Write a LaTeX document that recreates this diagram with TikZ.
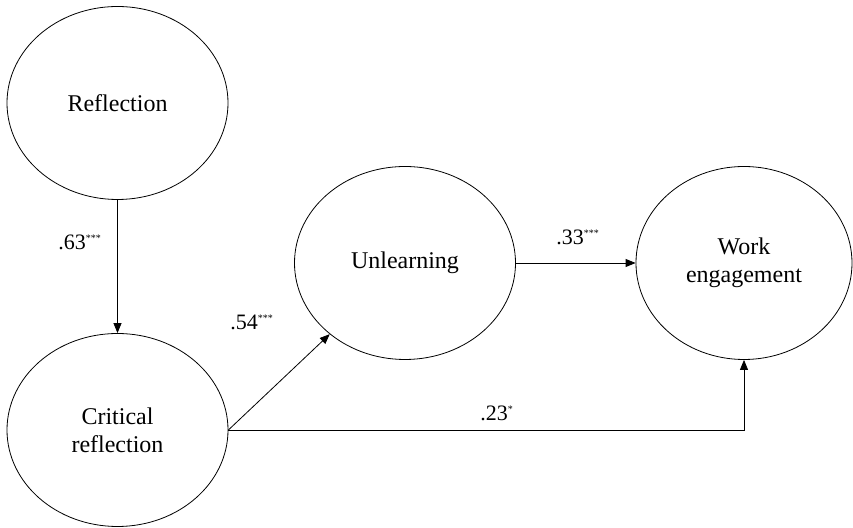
\documentclass[tikz,border=0pt]{standalone}
\usepackage{fontspec}
\setmainfont{Liberation Serif}
\usetikzlibrary{shapes.geometric,arrows.meta}
\begin{document}
\begin{tikzpicture}[x=0.5pt,y=-0.5pt,font=\fontsize{12}{14}\selectfont,
  latent/.style={draw,thin,ellipse,inner sep=0pt,minimum width=110.5pt,minimum height=96.5pt,align=center},
  path/.style={-{Triangle[length=5pt,width=4pt]},thin},
  coef/.style={font=\fontsize{11}{13}\selectfont}]
\useasboundingbox (0,0) rectangle (853,528);
\node[latent] (refl) at (117.5,103) {Reflection};
\node[latent] (crit) at (117.5,430) {Critical\\reflection};
\node[latent] (unl) at (405,263) {Unlearning};
\node[latent,minimum width=108pt] (work) at (744,263) {Work\\engagement};
\draw[path] (refl.south) -- (crit.north);
\draw[path] (crit.east) -- (unl);
\draw[path] (unl.east) -- (work.west);
\draw[path] (crit.east) -| (work.south);
\node[coef] (b1) at (80,242) {.63\textsuperscript{\tiny***}};
\node[coef] (b2) at (252,322) {.54\textsuperscript{\tiny***}};
\node[coef] (b3) at (578,237) {.33\textsuperscript{\tiny***}};
\node[coef] (b4) at (497,413) {.23\textsuperscript{\tiny*}};
\end{tikzpicture}
\end{document}
